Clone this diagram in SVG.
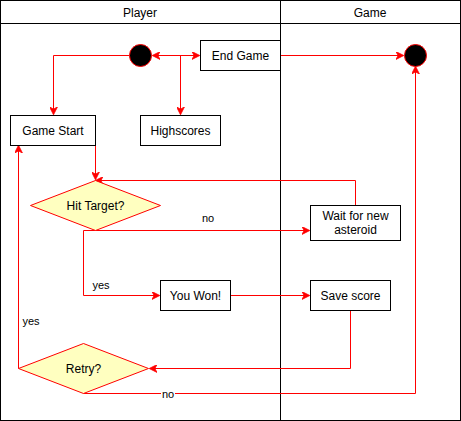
<svg xmlns="http://www.w3.org/2000/svg" width="461" height="421" viewBox="0 0 461 421">
<style>
.lane{fill:#fff;stroke:#000;stroke-width:1}
.box{fill:#fff;stroke:#000;stroke-width:1}
.dia{fill:#ffffc0;stroke:#ff0000;stroke-width:1}
.dot{fill:#000;stroke:#ff0000;stroke-width:1}
.e{fill:none;stroke:#ff0000;stroke-width:1}
text{font-family:"Liberation Sans",Arial,sans-serif;font-size:12px;fill:#000;text-anchor:middle;dominant-baseline:central}
.hd{font-size:12px}
.lbl{font-size:11px}
</style>
<defs>
<marker id="ah" viewBox="0 0 10 10" refX="9" refY="5" markerWidth="8" markerHeight="8" markerUnits="userSpaceOnUse" orient="auto">
<path d="M0,0 L10,5 L0,10 L3,5 z" fill="#ff0000" stroke="#ff0000" stroke-width="1"/>
</marker>
<marker id="as" viewBox="0 0 10 10" refX="9" refY="5" markerWidth="8" markerHeight="8" markerUnits="userSpaceOnUse" orient="auto-start-reverse">
<path d="M0,0 L10,5 L0,10 L3,5 z" fill="#ff0000" stroke="#ff0000" stroke-width="1"/>
</marker>
</defs>
<g id="lanes">
<rect class="lane" x="0.5" y="0.5" width="280" height="420"/>
<rect class="lane" x="280.5" y="0.5" width="180" height="420"/>
<line x1="0.5" y1="23.5" x2="460.5" y2="23.5" stroke="#000"/>
<text class="hd" x="140" y="13">Player</text>
<text class="hd" x="370" y="13">Game</text>
</g>
<g id="connectors">
<path class="e" d="M129,55.5 H53.5 V114" marker-end="url(#ah)"/>
<path class="e" d="M153,55.5 H199" marker-start="url(#as)" marker-end="url(#as)"/>
<path class="e" d="M180.5,55.5 V114" marker-end="url(#ah)"/>
<path class="e" d="M280.5,55.5 H403" marker-end="url(#ah)"/>
<path class="e" d="M95.5,145.5 V179" marker-end="url(#ah)"/>
<path class="e" d="M355.5,205.5 V180.5 H96" marker-end="url(#ah)"/>
<path class="e" d="M83.5,230.5 H309" marker-end="url(#ah)"/>
<path class="e" d="M83.5,230.5 V295.5 H159" marker-end="url(#ah)"/>
<path class="e" d="M230.5,295.5 H309" marker-end="url(#ah)"/>
<path class="e" d="M350.5,310.5 V368.5 H150" marker-end="url(#ah)"/>
<path class="e" d="M18.5,368.5 V146" marker-end="url(#ah)"/>
<path class="e" d="M83.5,393.5 H415.5 V67" marker-end="url(#ah)"/>
<text class="lbl" x="208" y="218">no</text>
<text class="lbl" x="101" y="285">yes</text>
<text class="lbl" x="31" y="321">yes</text>
<rect x="161" y="387" width="14" height="13" fill="#fff"/>
<text class="lbl" x="168" y="393.5">no</text>
</g>
<g id="start">
<circle class="dot" cx="140.5" cy="55.5" r="11"/>
</g>
<g id="end">
<circle class="dot" cx="415.5" cy="55.5" r="11"/>
</g>
<g id="endgame">
<rect class="box" x="200.5" y="40.5" width="80" height="30"/>
<text x="240.5" y="55.5">End Game</text>
</g>
<g id="gamestart">
<rect class="box" x="10.5" y="115.5" width="85" height="30"/>
<text x="53" y="130.5">Game Start</text>
</g>
<g id="highscores">
<rect class="box" x="140.5" y="115.5" width="80" height="30"/>
<text x="180.5" y="130.5">Highscores</text>
</g>
<g id="hittarget">
<path class="dia" d="M95.5,180.5 L160.5,205.5 L95.5,230.5 L30.5,205.5 Z"/>
<text x="95.5" y="205.5">Hit Target?</text>
</g>
<g id="wait">
<rect class="box" x="310.5" y="205.5" width="90" height="35"/>
<text x="355.5" y="215.5">Wait for new</text>
<text x="355.5" y="230">asteroid</text>
</g>
<g id="youwon">
<rect class="box" x="160.5" y="280.5" width="70" height="30"/>
<text x="195.5" y="295.5">You Won!</text>
</g>
<g id="savescore">
<rect class="box" x="310.5" y="280.5" width="80" height="30"/>
<text x="350.5" y="295.5">Save score</text>
</g>
<g id="retry">
<path class="dia" d="M83.5,343.5 L148.5,368.5 L83.5,393.5 L18.5,368.5 Z"/>
<text x="83.5" y="368.5">Retry?</text>
</g>
</svg>
